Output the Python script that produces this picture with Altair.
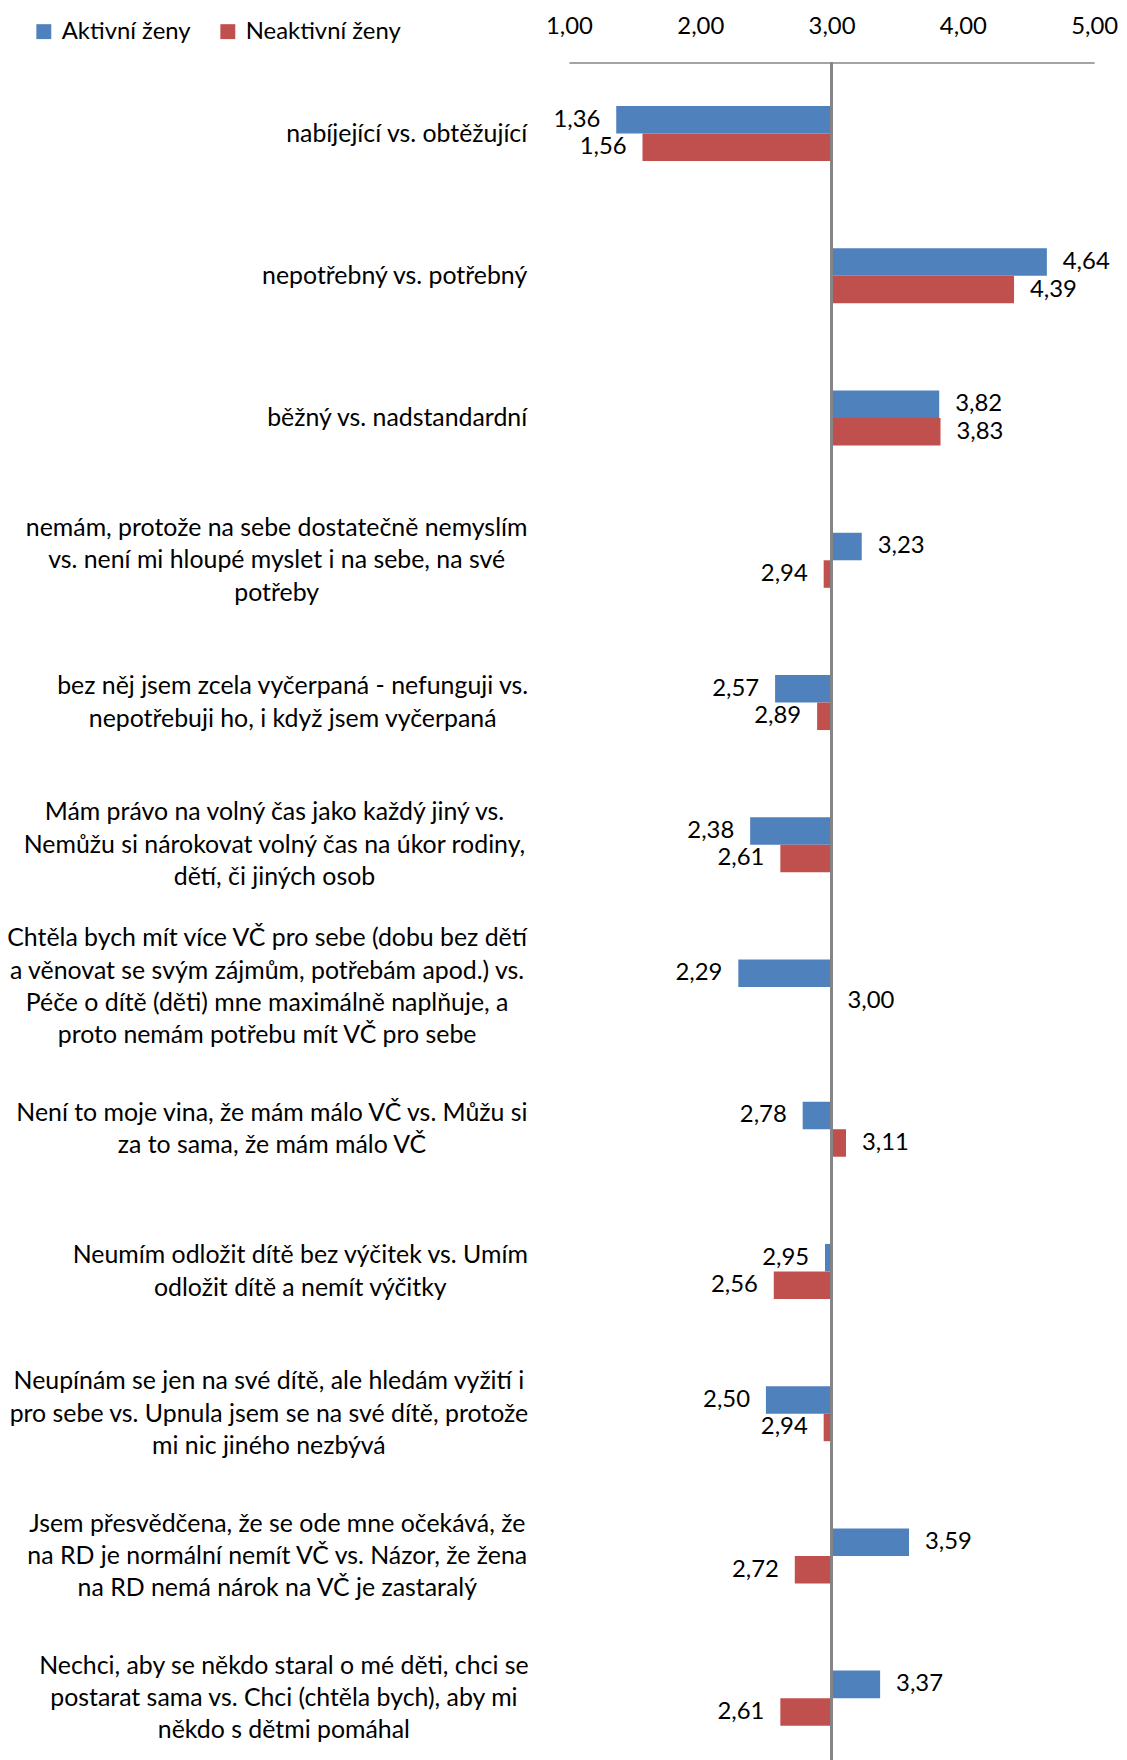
import unicodedata
import altair as alt
import pandas as pd

# ---------------- data ----------------
category_lines = [
    ["nabíjející vs. obtěžující"],
    ["nepotřebný vs. potřebný"],
    ["běžný vs. nadstandardní"],
    ["nemám, protože na sebe dostatečně nemyslím",
     "vs. není mi hloupé myslet i na sebe, na své",
     "potřeby"],
    ["bez něj jsem zcela vyčerpaná - nefunguji vs.",
     "nepotřebuji ho, i když jsem vyčerpaná"],
    ["Mám právo na volný čas jako každý jiný vs.",
     "Nemůžu si nárokovat volný čas na úkor rodiny,",
     "dětí, či jiných osob"],
    ["Chtěla bych mít více VČ pro sebe (dobu bez dětí",
     "a věnovat se svým zájmům, potřebám apod.) vs.",
     "Péče o dítě (děti) mne maximálně naplňuje, a",
     "proto nemám potřebu mít VČ pro sebe"],
    ["Není to moje vina, že mám málo VČ vs. Můžu si",
     "za to sama, že mám málo VČ"],
    ["Neumím odložit dítě bez výčitek vs. Umím",
     "odložit dítě a nemít výčitky"],
    ["Neupínám se jen na své dítě, ale hledám vyžití i",
     "pro sebe vs. Upnula jsem se na své dítě, protože",
     "mi nic jiného nezbývá"],
    ["Jsem přesvědčena, že se ode mne očekává, že",
     "na RD je normální nemít VČ vs. Názor, že žena",
     "na RD nemá nárok na VČ je zastaralý"],
    ["Nechci, aby se někdo staral o mé děti, chci se",
     "postarat sama vs. Chci (chtěla bych), aby mi",
     "někdo s dětmi pomáhal"],
]
aktivni = [1.36, 4.64, 3.82, 3.23, 2.57, 2.38, 2.29, 2.78, 2.95, 2.50, 3.59, 3.37]
neaktivni = [1.56, 4.39, 3.83, 2.94, 2.89, 2.61, 3.00, 3.11, 2.56, 2.94, 2.72, 2.61]
series = ["Aktivní ženy", "Neaktivní ženy"]
colors = ["#4F81BD", "#C0504D"]
x_ticks = [1, 2, 3, 4, 5]
baseline_value = 3

# ---------------- layout ----------------
FONT = "Lato"
FS = 24          # numbers, legend
FS_CAT = 25      # category labels
LH = 32.5        # line height of category labels
W = 528
H = 1716
X_MIN, X_MAX = 1, 5
PX_PER_UNIT = W / (X_MAX - X_MIN)
LABEL_RIGHT_GAP = 42  # px between label block and plot left edge

cat_ids = ["\n".join(l) for l in category_lines]

# rough glyph-width estimate (em) for centring multi-line labels
_w = {" ": 0.25, "i": 0.23, "l": 0.23, "j": 0.23, ",": 0.21, ".": 0.21, "(": 0.3,
      ")": 0.3, "f": 0.31, "t": 0.33, "r": 0.35, "-": 0.33, "m": 0.82, "w": 0.74,
      "s": 0.41, "c": 0.46, "z": 0.44, "a": 0.49, "e": 0.51, "v": 0.49, "y": 0.49,
      "x": 0.48, "k": 0.5, "g": 0.5, "M": 0.86, "N": 0.72, "V": 0.64, "C": 0.64,
      "P": 0.58, "J": 0.38, "U": 0.7, "R": 0.6, "D": 0.72}


def text_width(s):
    base = unicodedata.normalize("NFD", s)
    tot = 0.0
    for ch in base:
        if unicodedata.combining(ch):
            continue
        tot += _w.get(ch, 0.55)
    return tot * FS_CAT * 1.023


rows = []
for ci, cid in enumerate(cat_ids):
    for s, vals in zip(series, [aktivni, neaktivni]):
        v = vals[ci]
        rows.append({"cat": cid, "series": s, "value": v,
                     "label": f"{v:.2f}".replace(".", ",")})
df = pd.DataFrame(rows)

lab_rows = []
for lines, cid in zip(category_lines, cat_ids):
    wmax = max(text_width(l) for l in lines)
    if len(lines) == 1:
        px = -LABEL_RIGHT_GAP
    else:
        px = -LABEL_RIGHT_GAP - wmax / 2
    lab_rows.append({"cat": cid, "text": cid, "lx": X_MIN + px / PX_PER_UNIT,
                     "n": len(lines)})
lab_df = pd.DataFrame(lab_rows)

y_scale = alt.Scale(domain=cat_ids, paddingInner=0.613, paddingOuter=0.3065)
x_scale = alt.Scale(domain=[X_MIN, X_MAX], nice=False, zero=False)
x_axis = alt.Axis(orient="top", values=x_ticks, ticks=False, grid=False, title=None,
                  labelExpr="replace(format(datum.value, '.2f'), '.', ',')",
                  labelFlush=False, labelOverlap=False,
                  domainColor="#868686", domainWidth=1.5, labelFont=FONT,
                  labelFontSize=FS, labelColor="#000000", labelPadding=24)
y_off = alt.YOffset("series:N", sort=series,
                    scale=alt.Scale(domain=series, paddingInner=0, paddingOuter=0))

bars = alt.Chart(df).mark_bar().encode(
    y=alt.Y("cat:N", scale=y_scale, axis=None, sort=cat_ids),
    yOffset=y_off,
    x=alt.X("value:Q", scale=x_scale, axis=x_axis),
    x2=alt.datum(baseline_value),
    color=alt.Color("series:N", scale=alt.Scale(domain=series, range=colors),
                    legend=alt.Legend(orient="none", legendX=-540, legendY=-43,
                                      direction="horizontal", title=None,
                                      symbolType="square", symbolSize=225,
                                      symbolStrokeWidth=0, labelFont=FONT,
                                      labelFontSize=FS, labelColor="#000000",
                                      columnPadding=25, labelOffset=6, padding=0)),
)

rule = alt.Chart(df).mark_rule(color="#868686", strokeWidth=1.5).encode(
    x=alt.datum(baseline_value)
)

enc_common = dict(
    y=alt.Y("cat:N", scale=y_scale, axis=None, sort=cat_ids),
    yOffset=y_off,
    x=alt.X("value:Q", scale=x_scale),
    text="label:N",
)
vals_left = alt.Chart(df).transform_filter(f"datum.value < {baseline_value}").mark_text(
    align="right", baseline="middle", dx=-16, font=FONT, fontSize=FS, color="#000000"
).encode(**enc_common)
vals_right = alt.Chart(df).transform_filter(f"datum.value >= {baseline_value}").mark_text(
    align="left", baseline="middle", dx=16, font=FONT, fontSize=FS, color="#000000"
).encode(**enc_common)

lab_enc = dict(
    y=alt.Y("cat:N", scale=y_scale, axis=None, sort=cat_ids),
    x=alt.X("lx:Q", scale=x_scale),
    text="text:N",
)
label_layers = []
for n in sorted(set(lab_df["n"])):
    label_layers.append(
        alt.Chart(lab_df).transform_filter(f"datum.n == {n}").mark_text(
            align="right" if n == 1 else "center", baseline="middle",
            lineBreak="\n", lineHeight=LH, dy=-(n - 1) * LH / 2,
            font=FONT, fontSize=FS_CAT, color="#000000"
        ).encode(**lab_enc)
    )

chart = alt.layer(bars, rule, vals_left, vals_right, *label_layers).properties(
    width=W, height=H,
    autosize=alt.AutoSizeParams(type="none"),
    padding={"left": 564, "top": 50, "right": 25, "bottom": 0},
).configure_view(stroke=None)

chart.save("out.html", embed_options={"renderer": "svg", "actions": False})
